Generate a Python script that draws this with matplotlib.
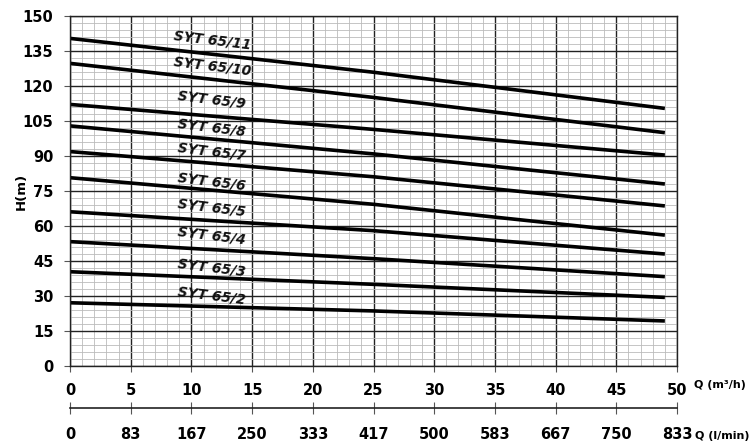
import numpy as np
import matplotlib
matplotlib.use("Agg")
import matplotlib.pyplot as plt
from matplotlib.ticker import MultipleLocator

plt.rcParams['font.family'] = ['DejaVu Sans Condensed', 'Liberation Sans Narrow', 'DejaVu Sans']
plt.rcParams['font.weight'] = 'bold'

# Data
q_points = [0, 25, 49]
models = ["SYT 65/11", "SYT 65/10", "SYT 65/9", "SYT 65/8", "SYT 65/7",
          "SYT 65/6", "SYT 65/5", "SYT 65/4", "SYT 65/3", "SYT 65/2"]
h_65_11 = [140.4, 125.9, 110.4]
h_65_10 = [129.7, 115.1, 100.0]
h_65_9 = [112.1, 101.4, 90.4]
h_65_8 = [102.9, 90.9, 78.0]
h_65_7 = [91.9, 81.1, 68.6]
h_65_6 = [80.7, 69.3, 56.1]
h_65_5 = [66.1, 58.0, 48.0]
h_65_4 = [53.3, 46.0, 38.3]
h_65_3 = [40.4, 35.0, 29.4]
h_65_2 = [27.1, 23.6, 19.3]
curves = [h_65_11, h_65_10, h_65_9, h_65_8, h_65_7, h_65_6, h_65_5, h_65_4, h_65_3, h_65_2]
label_q = 11.7
label_h = [139.7, 128.6, 114.0, 102.0, 91.7, 78.9, 67.7, 55.7, 42.0, 30.0]

x_ticks = [0, 5, 10, 15, 20, 25, 30, 35, 40, 45, 50]
y_ticks = [0, 15, 30, 45, 60, 75, 90, 105, 120, 135, 150]
lmin_labels = ["0", "83", "167", "250", "333", "417", "500", "583", "667", "750", "833"]

fig = plt.figure(figsize=(7.54, 4.44), dpi=100)
L, R = 70 / 754, 677 / 754
B, T = 1 - 366 / 444, 1 - 16 / 444
ax = fig.add_axes([L, B, R - L, T - B])

for h in curves:
    ax.plot(q_points, h, color='black', lw=2.6, solid_capstyle='butt')
for name, lh in zip(models, label_h):
    ax.text(label_q, lh, name, rotation=-7, ha='center', va='center',
            fontsize=10, fontweight='bold', style='italic', color='#111111')

ax.set_xlim(0, 50)
ax.set_ylim(0, 150)
ax.set_xticks(x_ticks)
ax.set_yticks(y_ticks)
ax.xaxis.set_minor_locator(MultipleLocator(1))
ax.yaxis.set_minor_locator(MultipleLocator(3))
ax.grid(which='major', color='#222222', lw=1.0)
ax.grid(which='minor', color='#bbbbbb', lw=0.6)
ax.set_axisbelow(True)
for s in ax.spines.values():
    s.set_color('#222222')
    s.set_linewidth(1.0)
ax.tick_params(axis='both', which='major', labelsize=10.5, length=4, color='#555555', pad=8)
ax.tick_params(axis='both', which='minor', length=0)
ax.set_ylabel("H(m)", fontsize=9.5, fontweight='bold')
ax.yaxis.set_label_coords(-0.07, 0.5)

fig.text(694 / 754, 1 - 385 / 444, "Q (m³/h)", fontsize=8, fontweight='bold',
         ha='left', va='center')
fig.text(695 / 754, 1 - 436 / 444, "Q (l/min)", fontsize=8, fontweight='bold',
         ha='left', va='center')

# Secondary flow axis
yb = 1 - 408 / 444
ax2 = fig.add_axes([L, yb, R - L, 0.0001])
conv = 1000 / 60
ax2.set_xlim(0, 50 * conv)
ax2.set_xticks([v * conv for v in x_ticks])
ax2.set_xticklabels(lmin_labels)
ax2.set_yticks([])
for k in ['top', 'left', 'right']:
    ax2.spines[k].set_visible(False)
ax2.spines['bottom'].set_color('#222222')
ax2.spines['bottom'].set_linewidth(1.2)
ax2.tick_params(axis='x', direction='inout', length=8, labelsize=10.5, pad=10, color='#555555')
ax2.patch.set_visible(False)

fig.savefig("out.png", dpi=100)
